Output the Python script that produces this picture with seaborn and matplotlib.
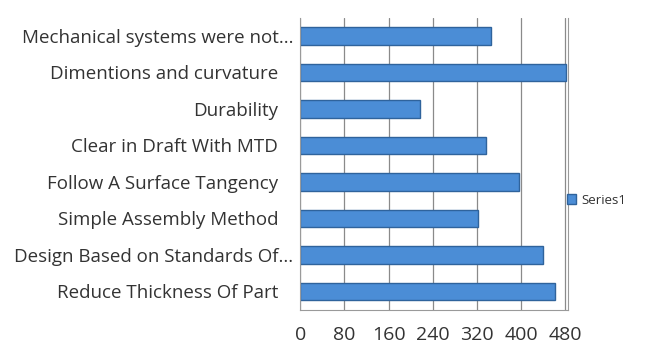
import matplotlib
matplotlib.use("Agg")
import matplotlib.pyplot as plt
import matplotlib.transforms as mtransforms
import seaborn as sns
import pandas as pd

# ── data ──
categories = [
    "Mechanical systems were not...",
    "Dimentions and curvature",
    "Durability",
    "Clear in Draft With MTD",
    "Follow A Surface Tangency",
    "Simple Assembly Method",
    "Design Based on Standards Of...",
    "Reduce Thickness Of Part",
]
values = [345, 481, 217, 336, 396, 322, 440, 461]
x_ticks = [0, 80, 160, 240, 320, 400, 480]
series_name = "Series1"

df = pd.DataFrame({"Category": categories, "Value": values, "Series": series_name})

sns.set_style("white")
plt.rcParams["font.family"] = ["Open Sans", "DejaVu Sans"]

fig = plt.figure(figsize=(6.54, 3.54), dpi=100)
ax = fig.add_axes([0.459, 0.125, 0.4095, 0.825])

sns.barplot(data=df, x="Value", y="Category", hue="Series", orient="h",
            palette=["#4b8dd6"], saturation=1, edgecolor="#2f639c",
            linewidth=1.0, width=0.47, ax=ax, legend=True)

ax.set_xlim(0, 485)
ax.set_xticks(x_ticks)
ax.set_xticklabels([str(t) for t in x_ticks], fontsize=14, color="#333333")
ax.tick_params(axis="x", pad=12, length=0)
ax.tick_params(axis="y", labelsize=13.5, labelcolor="#333333", length=2, pad=3)
ax.set_xlabel("")
ax.set_ylabel("")
ax.grid(axis="x", color="#8a8a8a", linewidth=0.9)
ax.set_axisbelow(True)
ax.spines["top"].set_visible(False)
ax.spines["right"].set_color("#9a9a9a")
ax.spines["left"].set_color("#9a9a9a")
ax.spines["bottom"].set_color("#9a9a9a")

# full labels sit a bit further left than the truncated ones, like the original
shift = mtransforms.ScaledTranslation(-0.15, 0, fig.dpi_scale_trans)
for lbl in ax.get_yticklabels():
    if not lbl.get_text().endswith("..."):
        lbl.set_transform(lbl.get_transform() + shift)

ax.legend(loc="center left", bbox_to_anchor=(0.849, 0.435),
          bbox_transform=fig.transFigure, frameon=False, fontsize=9.5,
          handlelength=0.7, handleheight=0.7, handletextpad=0.4,
          labelcolor="#333333")

fig.savefig("out.png", dpi=100)
